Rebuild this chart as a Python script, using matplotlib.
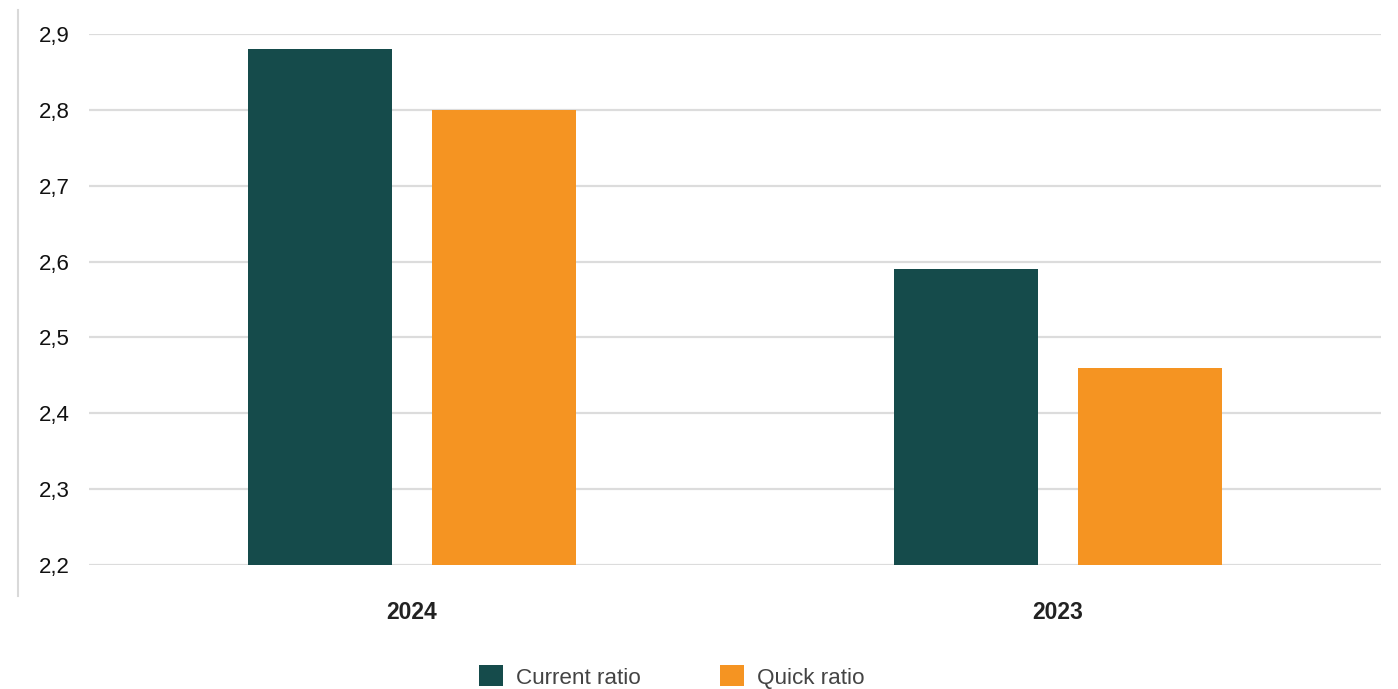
import matplotlib
matplotlib.use("Agg")
import matplotlib.pyplot as plt
from matplotlib.patches import Patch
from matplotlib.lines import Line2D
from matplotlib.ticker import FuncFormatter

plt.rcParams['font.family'] = ['Liberation Sans', 'DejaVu Sans']

# Data
years = ["2024", "2023"]
current_ratio = [2.88, 2.59]
quick_ratio = [2.80, 2.46]
series_names = ["Current ratio", "Quick ratio"]
colors = ["#154B4B", "#F59422"]

W, H = 1398, 689
fig = plt.figure(figsize=(W / 100, H / 100), dpi=100)
ax = fig.add_axes([89 / W, 1 - 565 / H, (1381 - 89) / W, (565 - 34) / H])

x = range(len(years))
bw = 0.223
off = 0.1424
ax.bar([i - off for i in x], current_ratio, width=bw, color=colors[0], zorder=3)
ax.bar([i + off for i in x], quick_ratio, width=bw, color=colors[1], zorder=3)

ax.set_xlim(-0.5, 1.5)
ax.set_ylim(2.2, 2.9)
ax.set_yticks([2.2, 2.3, 2.4, 2.5, 2.6, 2.7, 2.8, 2.9])
ax.yaxis.set_major_formatter(FuncFormatter(lambda v, p: f"{v:.1f}".replace(".", ",")))
ax.set_xticks(list(x))
ax.set_xticklabels(years, fontweight='bold', color='#222222')
ax.tick_params(axis='x', length=0, pad=26, labelsize=16.5)
ax.tick_params(axis='y', length=0, pad=14, labelsize=16, labelcolor='#111111')
ax.grid(axis='y', color='#dcdcdc', linewidth=1.6, zorder=0)
for s in ax.spines.values():
    s.set_visible(False)

# thin vertical rule at left edge
fig.add_artist(Line2D([18 / W, 18 / W], [1 - 10 / H, 1 - 596 / H],
                      color='#d9d9d9', linewidth=1.5))

handles = [Patch(facecolor=c, edgecolor='none') for c in colors]
fig.legend(handles, series_names, loc='center', ncol=2, frameon=False,
           bbox_to_anchor=(672 / W, 1 - 677 / H), fontsize=16.2,
           handlelength=1.05, handleheight=1.05, handletextpad=0.6,
           columnspacing=3.5, labelcolor='#444444')

fig.savefig("out.png", dpi=100)
